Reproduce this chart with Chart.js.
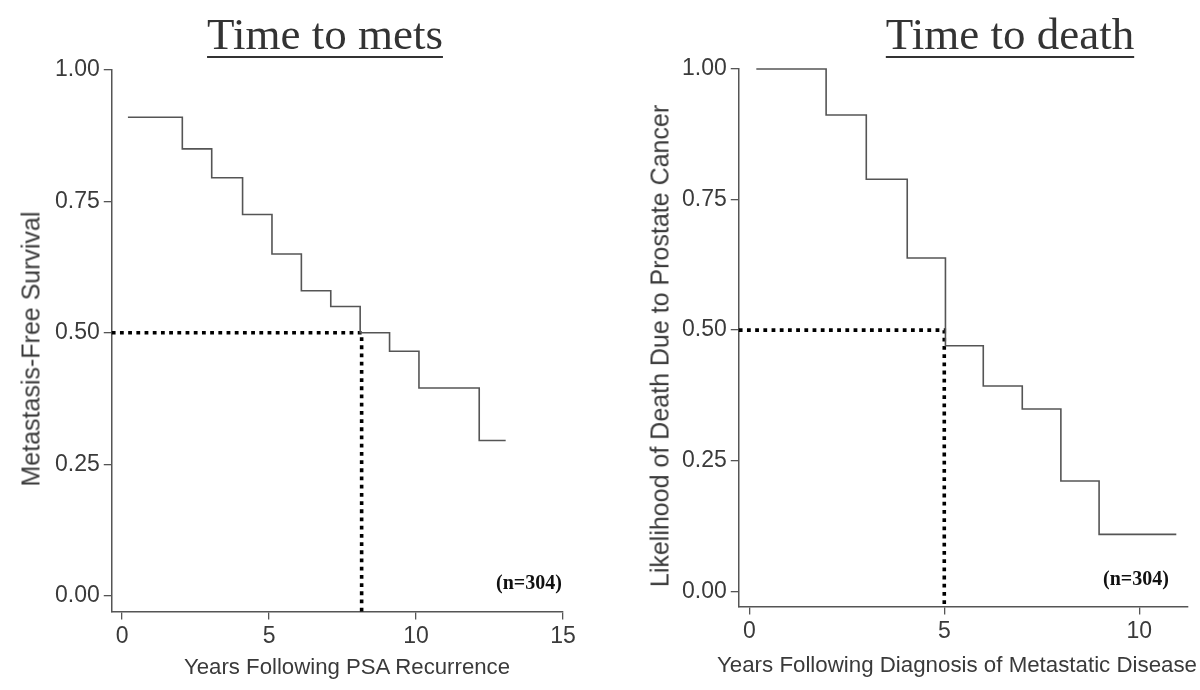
<!DOCTYPE html>
<html>
<head>
<meta charset="utf-8">
<script src="https://cdn.jsdelivr.net/npm/chart.js@4.4.1/dist/chart.umd.min.js"></script>
<style>
    body {
        margin: 0;
        width: 1200px;
        height: 690px;
        background: #fff;
        position: relative;
        overflow: hidden;
    }
    .box {
        position: absolute;
        top: 0;
        width: 600px;
        height: 690px;
    }
    .title {
        position: absolute;
        top: 8px;
        font-family: "Liberation Serif", "Times New Roman", serif;
        font-size: 45px;
        color: #333;
        text-decoration: underline;
        text-decoration-thickness: 2px;
        text-underline-offset: 7px;
        white-space: nowrap;
        transform: translateX(-50%);
    }
    .nlabel {
        position: absolute;
        font-family: "Liberation Serif", "Times New Roman", serif;
        font-weight: bold;
        font-size: 20px;
        color: #111;
        transform: translate(-50%, -50%);
    }
    .axtitle {
        position: absolute;
        font-family: "Liberation Sans", Arial, sans-serif;
        color: #3a3a3a;
        white-space: nowrap;
        line-height: 1;
        transform: translate(-50%, -50%);
    }
    .axtitle.vert {
        font-size: 25px;
        transform: translate(-50%, -50%) rotate(-90deg);
    }
</style>
</head>
<body>
<div class="box" style="left:0"><canvas id="metsChart"></canvas></div>
<div class="box" style="left:600px"><canvas id="deathChart"></canvas></div>
<div class="title" style="left:325px">Time to mets</div>
<div class="title" style="left:1010px">Time to death</div>
<div class="nlabel" style="left:529px;top:582px">(n=304)</div>
<div class="nlabel" style="left:1136px;top:578px">(n=304)</div>
<div class="axtitle" style="left:347px;top:667px;font-size:22.2px">Years Following PSA Recurrence</div>
<div class="axtitle" style="left:957px;top:665px;font-size:22.3px">Years Following Diagnosis of Metastatic Disease</div>
<div class="axtitle vert" style="left:31px;top:349px">Metastasis-Free Survival</div>
<div class="axtitle vert" style="left:660px;top:346px">Likelihood of Death Due to Prostate Cancer</div>

<script>
// Time to mets (KM steps: time where each level starts)
const metsYears = [0.2, 2.05, 3.05, 4.1, 5.1, 6.1, 7.1, 8.1, 9.1, 10.1, 12.15, 13.05];
const metsSurvival = [0.91, 0.85, 0.795, 0.725, 0.65, 0.58, 0.55, 0.50, 0.465, 0.395, 0.295, 0.295];
const metsMedian = 8.15;

// Time to death
const deathYears = [0.18, 1.97, 3.0, 4.05, 5.03, 6.0, 7.0, 7.99, 8.97, 10.95];
const deathLikelihood = [1.0, 0.912, 0.789, 0.638, 0.47, 0.393, 0.349, 0.211, 0.109, 0.109];
const deathMedian = 5.0;

const yTicks = [0, 0.25, 0.5, 0.75, 1];
const metsXTicks = [0, 5, 10, 15];
const deathXTicks = [0, 5, 10];

const axisColor = '#555';
const textColor = '#3a3a3a';
const sansFont = '"Liberation Sans", Arial, sans-serif';

function toPoints(xs, ys) {
    return xs.map((x, i) => ({ x: x, y: ys[i] }));
}

function medianLine(xMin, yMin, median) {
    return [{ x: xMin, y: 0.5 }, { x: median, y: 0.5 }, { x: median, y: yMin }];
}

// axis titles are html divs above, so the charts only draw ticks + lines
function makeOptions(cfg) {
    return {
        responsive: true,
        maintainAspectRatio: false,
        animation: false,
        layout: { padding: cfg.padding },
        plugins: {
            legend: { display: false },
            tooltip: { enabled: false }
        },
        scales: {
            x: {
                type: 'linear',
                min: cfg.xMin,
                max: cfg.xMax,
                afterBuildTicks: (scale) => {
                    scale.ticks = cfg.xTicks.map(v => ({ value: v }));
                },
                grid: { drawOnChartArea: false, drawTicks: true, tickLength: 8, color: axisColor, lineWidth: 1.3 },
                border: { display: true, color: axisColor, width: 1.5 },
                ticks: {
                    color: textColor,
                    padding: 3,
                    maxRotation: 0,
                    font: { family: sansFont, size: 23 }
                }
            },
            y: {
                type: 'linear',
                min: cfg.yMin,
                max: 1,
                afterBuildTicks: (scale) => {
                    scale.ticks = yTicks.map(v => ({ value: v }));
                },
                grid: { drawOnChartArea: false, drawTicks: true, tickLength: 8, color: axisColor, lineWidth: 1.3 },
                border: { display: true, color: axisColor, width: 1.5 },
                ticks: {
                    color: textColor,
                    padding: 4,
                    font: { family: sansFont, size: 23 },
                    callback: (v) => v.toFixed(2)
                }
            }
        }
    };
}

// TIME TO METS
new Chart(document.getElementById('metsChart'), {
    type: 'line',
    data: {
        datasets: [{
            data: toPoints(metsYears, metsSurvival),
            stepped: 'before',
            borderColor: '#555',
            borderWidth: 1.6,
            pointRadius: 0,
            fill: false,
            clip: false
        }, {
            data: medianLine(-0.35, -0.03, metsMedian),
            borderColor: '#000',
            borderWidth: 3.6,
            borderDash: [3.8, 4.4],
            pointRadius: 0,
            fill: false,
            clip: false
        }]
    },
    options: makeOptions({
        xMin: -0.35, xMax: 15, yMin: -0.03,
        xTicks: metsXTicks,
        padding: { left: 51, top: 70, right: 37, bottom: 37 }
    })
});

// TIME TO DEATH
new Chart(document.getElementById('deathChart'), {
    type: 'line',
    data: {
        datasets: [{
            data: toPoints(deathYears, deathLikelihood),
            stepped: 'before',
            borderColor: '#555',
            borderWidth: 1.6,
            pointRadius: 0,
            fill: false,
            clip: false
        }, {
            data: medianLine(-0.27, -0.029, deathMedian),
            borderColor: '#000',
            borderWidth: 3.6,
            borderDash: [3.8, 4.4],
            pointRadius: 0,
            fill: false,
            clip: false
        }]
    },
    options: makeOptions({
        xMin: -0.27, xMax: 11.25, yMin: -0.029,
        xTicks: deathXTicks,
        padding: { left: 78, top: 69, right: 12, bottom: 42 }
    })
});
</script>
</body>
</html>
